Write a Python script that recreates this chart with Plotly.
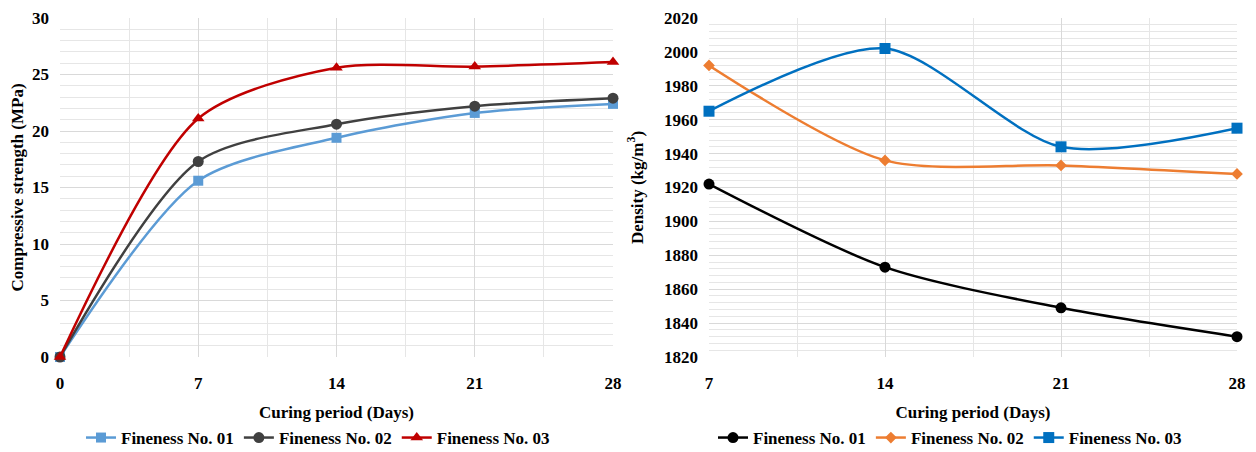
import plotly.graph_objects as go

days_cs = [0, 7, 14, 21, 28]
cs_f01 = [0, 15.6, 19.4, 21.6, 22.4]
cs_f02 = [0, 17.3, 20.6, 22.2, 22.9]
cs_f03 = [0, 21.1, 25.6, 25.7, 26.1]

days_d = [7, 14, 21, 28]
den_f01 = [1922, 1873, 1849, 1832]
den_f02 = [1992, 1936, 1933, 1928]
den_f03 = [1965, 2002, 1944, 1955]

names = ["Fineness No. 01", "Fineness No. 02", "Fineness No. 03"]

FONT = "Liberation Serif"
W, H = 1256, 452
OFF = 8  # page body margin
fig = go.Figure()

left_styles = [("#5B9BD5", "square", 10), ("#404040", "circle", 11), ("#C00000", "triangle-up", 11)]
for name, ys, (c, sym, sz) in zip(names, [cs_f01, cs_f02, cs_f03], left_styles):
    fig.add_trace(go.Scatter(x=days_cs, y=ys, name="<b>" + name + "</b>", mode="lines+markers",
                             line=dict(color=c, width=2.5, shape="spline", smoothing=0.8),
                             marker=dict(color=c, symbol=sym, size=sz),
                             xaxis="x", yaxis="y", legend="legend", cliponaxis=False))

right_styles = [("#000000", "circle", 11), ("#ED7D31", "diamond", 9), ("#0070C0", "square", 11)]
for name, ys, (c, sym, sz) in zip(names, [den_f01, den_f02, den_f03], right_styles):
    fig.add_trace(go.Scatter(x=days_d, y=ys, name="<b>" + name + "</b>", mode="lines+markers",
                             line=dict(color=c, width=2.5, shape="spline", smoothing=0.8),
                             marker=dict(color=c, symbol=sym, size=sz),
                             xaxis="x2", yaxis="y2", legend="legend2", cliponaxis=False))

tickfont = dict(family=FONT, size=17, color="#000000")
titlefont = dict(family=FONT, size=17, color="#000000")
grid = dict(showgrid=True, gridcolor="#d9d9d9", gridwidth=1, zeroline=False,
            showline=False, ticks="", tickfont=tickfont, automargin=False)

def px(x):
    return (x - OFF) / W

def py(y):
    return 1 - (y - OFF) / H

ydom = [py(357), py(18)]
fig.update_layout(
    width=W, height=H,
    margin=dict(l=0, r=0, t=0, b=0),
    paper_bgcolor="white", plot_bgcolor="white",
    font=dict(family=FONT, color="#000000"),
    xaxis=dict(domain=[px(60), px(613)], range=[0, 28], tickvals=[0, 7, 14, 21, 28],
               ticktext=["<b>0</b>", "<b>7</b>", "<b>14</b>", "<b>21</b>", "<b>28</b>"],
               minor=dict(dtick=3.5, showgrid=True, gridcolor="#e6e6e6"),
               ticklabelstandoff=14,
               title=dict(text="<b>Curing period (Days)</b>", font=titlefont, standoff=14),
               anchor="y", **grid),
    yaxis=dict(domain=ydom, range=[0, 30], tickvals=[0, 5, 10, 15, 20, 25, 30],
               ticktext=["<b>%d</b>" % v for v in [0, 5, 10, 15, 20, 25, 30]],
               minor=dict(dtick=1, showgrid=True, gridcolor="#e6e6e6"),
               ticklabelstandoff=10,
               title=dict(text="<b>Compressive strength (MPa)</b>", font=titlefont, standoff=10),
               anchor="x", **grid),
    xaxis2=dict(domain=[px(709), px(1237)], range=[7, 28], tickvals=[7, 14, 21, 28],
                ticktext=["<b>7</b>", "<b>14</b>", "<b>21</b>", "<b>28</b>"],
                minor=dict(dtick=3.5, tick0=7, showgrid=True, gridcolor="#e6e6e6"),
                ticklabelstandoff=14,
                title=dict(text="<b>Curing period (Days)</b>", font=titlefont, standoff=14),
                anchor="y2", **grid),
    yaxis2=dict(domain=ydom, range=[1820, 2020], tickvals=list(range(1820, 2021, 20)),
                ticktext=["<b>%d</b>" % v for v in range(1820, 2021, 20)],
                minor=dict(dtick=4, showgrid=True, gridcolor="#e6e6e6"),
                ticklabelstandoff=10,
                title=dict(text="<b>Density (kg/m<sup>3</sup>)</b>", font=titlefont, standoff=16),
                anchor="x2", **grid),
    legend=dict(orientation="h", x=px(318), xanchor="center", y=py(438), yanchor="middle",
                font=dict(family=FONT, size=17, color="#000000"), itemwidth=30,
                bgcolor="rgba(0,0,0,0)", tracegroupgap=0),
    legend2=dict(orientation="h", x=px(950), xanchor="center", y=py(438), yanchor="middle",
                 font=dict(family=FONT, size=17, color="#000000"), itemwidth=30,
                 bgcolor="rgba(0,0,0,0)", tracegroupgap=0),
)

fig.write_html("out.html")
